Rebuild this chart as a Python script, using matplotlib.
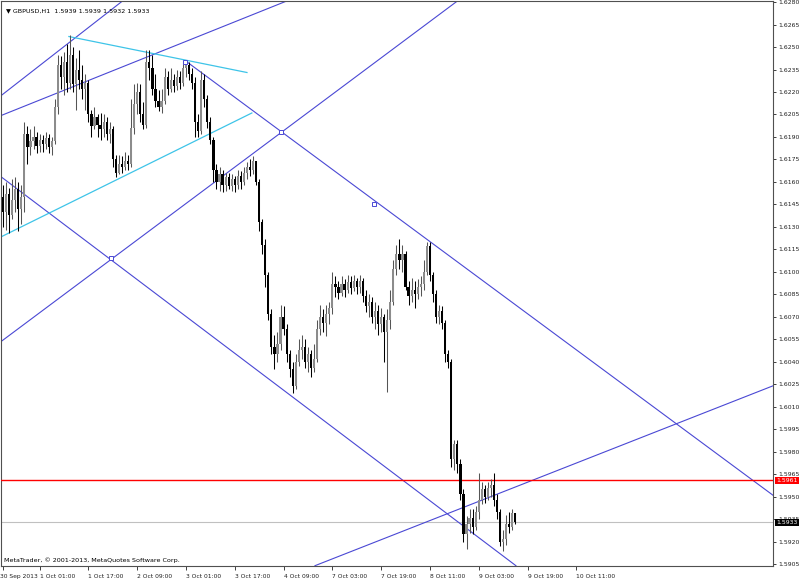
import numpy as np
import matplotlib
matplotlib.use("Agg")
import matplotlib.pyplot as plt
import matplotlib.transforms as mtrans

# GBPUSD H1 candles (bar index 0 = 30 Sep 2013 13:00)
first_open = 1.6150
close = [
    1.6140, 1.6152, 1.6138, 1.6148, 1.6155, 1.6142, 1.6150, 1.6192, 1.6183, 1.6187,
    1.6190, 1.6184, 1.6188, 1.6185, 1.6189, 1.6183, 1.6187, 1.6210, 1.6238, 1.6230,
    1.6240, 1.6226, 1.6245, 1.6225, 1.6235, 1.6228, 1.6222, 1.6226, 1.6205, 1.6197,
    1.6203, 1.6198, 1.6195, 1.6200, 1.6192, 1.6195, 1.6175, 1.6166, 1.6172, 1.6170,
    1.6174, 1.6172, 1.6196, 1.6212, 1.6220, 1.6205, 1.6198, 1.6240, 1.6236, 1.6222,
    1.6214, 1.6210, 1.6214, 1.6230, 1.6222, 1.6228, 1.6224, 1.6230, 1.6226, 1.6236,
    1.6238, 1.6232, 1.6226, 1.6200, 1.6194, 1.6228, 1.6215, 1.6200, 1.6188, 1.6168,
    1.6160, 1.6165, 1.6158, 1.6163, 1.6157, 1.6162, 1.6158, 1.6164, 1.6160, 1.6166,
    1.6170, 1.6168, 1.6174, 1.6160, 1.6133, 1.6118, 1.6098, 1.6072, 1.6050, 1.6045,
    1.6052, 1.6070, 1.6062, 1.6045, 1.6035, 1.6024, 1.6040, 1.6048, 1.6050, 1.6040,
    1.6045, 1.6036, 1.6042, 1.6062, 1.6070, 1.6066, 1.6072, 1.6076, 1.6092, 1.6090,
    1.6086, 1.6092, 1.6088, 1.6093, 1.6089, 1.6094, 1.6090, 1.6094, 1.6084, 1.6077,
    1.6080, 1.6070, 1.6074, 1.6065, 1.6070, 1.6060, 1.6068, 1.6080, 1.6102, 1.6112,
    1.6108, 1.6112, 1.6090, 1.6084, 1.6088, 1.6085, 1.6090, 1.6092, 1.6100, 1.6117,
    1.6098, 1.6085, 1.6070, 1.6074, 1.6066, 1.6045, 1.6040, 1.5975, 1.5985, 1.5972,
    1.5952, 1.5925, 1.5932, 1.5936, 1.5930, 1.5940, 1.5948, 1.5955, 1.5950, 1.5956,
    1.5958, 1.5948, 1.5940, 1.5920, 1.5922, 1.5932, 1.5930, 1.5939, 1.5933,
]
high = [
    1.6158, 1.6160, 1.6156, 1.6162, 1.6163, 1.6160, 1.6158, 1.6200, 1.6197, 1.6195,
    1.6197, 1.6193, 1.6192, 1.6191, 1.6193, 1.6192, 1.6190, 1.6215, 1.6245, 1.6244,
    1.6247, 1.6252, 1.6258, 1.6250, 1.6243, 1.6248, 1.6238, 1.6232, 1.6228, 1.6208,
    1.6210, 1.6205, 1.6206, 1.6205, 1.6203, 1.6200, 1.6197, 1.6178, 1.6178, 1.6177,
    1.6180, 1.6178, 1.6215, 1.6225, 1.6226, 1.6225, 1.6213, 1.6248, 1.6248, 1.6245,
    1.6232, 1.6221, 1.6222, 1.6236, 1.6234, 1.6236, 1.6232, 1.6235, 1.6234, 1.6241,
    1.6241, 1.6240, 1.6236, 1.6230, 1.6205, 1.6234, 1.6232, 1.6218, 1.6203, 1.6190,
    1.6172, 1.6170, 1.6168, 1.6166, 1.6166, 1.6165, 1.6164, 1.6168, 1.6167, 1.6170,
    1.6173, 1.6175, 1.6177, 1.6173, 1.6162, 1.6135, 1.6122, 1.6100, 1.6075, 1.6058,
    1.6060, 1.6078, 1.6077, 1.6065, 1.6048, 1.6040, 1.6045, 1.6055, 1.6058, 1.6055,
    1.6050, 1.6048, 1.6052, 1.6068, 1.6078, 1.6075, 1.6078, 1.6080, 1.6100, 1.6097,
    1.6094, 1.6097, 1.6095, 1.6098, 1.6097, 1.6098, 1.6096, 1.6098, 1.6096, 1.6088,
    1.6085, 1.6083, 1.6080, 1.6078, 1.6076, 1.6072, 1.6075, 1.6088, 1.6108, 1.6118,
    1.6122, 1.6118, 1.6114, 1.6094, 1.6096, 1.6094, 1.6095, 1.6097, 1.6108, 1.6120,
    1.6120, 1.6100, 1.6088, 1.6078, 1.6077, 1.6068, 1.6048, 1.6042, 1.5988, 1.5988,
    1.5975, 1.5955, 1.5937, 1.5942, 1.5942, 1.5944, 1.5966, 1.5960, 1.5958, 1.5960,
    1.5962, 1.5966, 1.5952, 1.5942, 1.5928, 1.5938, 1.5940, 1.5942, 1.5939,
]
low = [
    1.6130, 1.6128, 1.6126, 1.6135, 1.6140, 1.6127, 1.6132, 1.6140, 1.6172, 1.6178,
    1.6182, 1.6179, 1.6180, 1.6180, 1.6182, 1.6179, 1.6178, 1.6185, 1.6205, 1.6222,
    1.6218, 1.6220, 1.6222, 1.6220, 1.6208, 1.6222, 1.6215, 1.6208, 1.6200, 1.6190,
    1.6195, 1.6190, 1.6188, 1.6190, 1.6188, 1.6186, 1.6170, 1.6163, 1.6165, 1.6166,
    1.6168, 1.6168, 1.6170, 1.6192, 1.6205, 1.6200, 1.6195, 1.6196, 1.6228, 1.6218,
    1.6210, 1.6207, 1.6206, 1.6212, 1.6218, 1.6220, 1.6220, 1.6221, 1.6222, 1.6224,
    1.6230, 1.6228, 1.6222, 1.6190, 1.6190, 1.6192, 1.6210, 1.6196, 1.6185, 1.6160,
    1.6155, 1.6154, 1.6153, 1.6154, 1.6155, 1.6154, 1.6153, 1.6155, 1.6155, 1.6158,
    1.6162, 1.6164, 1.6165, 1.6158, 1.6127, 1.6112, 1.6090, 1.6068, 1.6045, 1.6035,
    1.6040, 1.6048, 1.6058, 1.6040, 1.6030, 1.6019, 1.6022, 1.6037, 1.6042, 1.6036,
    1.6033, 1.6030, 1.6033, 1.6040, 1.6058, 1.6060, 1.6057, 1.6065, 1.6072, 1.6083,
    1.6082, 1.6084, 1.6083, 1.6086, 1.6085, 1.6087, 1.6085, 1.6086, 1.6080, 1.6073,
    1.6070, 1.6066, 1.6062, 1.6058, 1.6060, 1.6040, 1.6020, 1.6062, 1.6078, 1.6098,
    1.6102, 1.6100, 1.6088, 1.6078, 1.6080, 1.6076, 1.6082, 1.6084, 1.6088, 1.6098,
    1.6094, 1.6080, 1.6066, 1.6065, 1.6062, 1.6040, 1.6036, 1.5970, 1.5968, 1.5966,
    1.5948, 1.5920, 1.5915, 1.5926, 1.5925, 1.5928, 1.5935, 1.5945, 1.5946, 1.5948,
    1.5950, 1.5944, 1.5935, 1.5917, 1.5914, 1.5918, 1.5926, 1.5928, 1.5932,
]

# time axis labels (bar index -> text)
time_ticks = [0, 12, 28, 44, 60, 76, 92, 108, 124, 140, 156, 172, 188]
time_labels = ["30 Sep 2013", "1 Oct 01:00", "1 Oct 17:00", "2 Oct 09:00",
               "3 Oct 01:00", "3 Oct 17:00", "4 Oct 09:00", "7 Oct 03:00",
               "7 Oct 19:00", "8 Oct 11:00", "9 Oct 03:00", "9 Oct 19:00",
               "10 Oct 11:00"]
price_ticks = [1.5905 + 0.0015 * k for k in range(26)]

# trend lines drawn on the chart: (bar, price) -> (bar, price)
blue_lines = [
    ((-1, 1.6217), (40, 1.6282)),
    ((-1, 1.6204), (93.4, 1.6281)),
    ((59.7, 1.6241), (252.5, 1.5951)),
    ((-1, 1.6164), (168.2, 1.5904)),
    ((-1, 1.6053), (149.2, 1.6281)),
    ((102.3, 1.5904), (252.5, 1.6024)),
]
cyan_lines = [
    ((21.6, 1.6257), (80.0, 1.6233)),
    ((-1, 1.6123), (81.6, 1.6206)),
]
anchor_x = [35.4, 91.1, 121.6, 59.7]
anchor_y = [1.6109, 1.6193, 1.6145, 1.6240]

red_level = 1.5961
last_price = 1.5933

close = np.array(close)
high = np.array(high)
low = np.array(low)
opens = np.r_[first_open, close[:-1]]
idx = np.arange(len(close))
up = close >= opens

fig = plt.figure(figsize=(8, 5.83), dpi=100)
ax = fig.add_axes([1 / 800, 17 / 583, 772 / 800, 565 / 583])
ax.set_xlim(-0.66, 252.5)
ax.set_ylim(1.59038, 1.62807)

blue = "#4a48d4"
cyan = "#3ec4e8"

for (x0, y0), (x1, y1) in blue_lines:
    ax.plot([x0, x1], [y0, y1], color=blue, lw=0.8, zorder=2)
for (x0, y0), (x1, y1) in cyan_lines:
    ax.plot([x0, x1], [y0, y1], color=cyan, lw=0.9, zorder=2)
ax.plot(anchor_x, anchor_y, ls="none", marker="s", ms=3.2, mfc="white",
        mec=blue, mew=0.7, zorder=5)

ax.axhline(red_level, color="#ff0000", lw=1.0, zorder=3)
ax.axhline(last_price, color="#c0c0c0", lw=0.8, zorder=1)

# candles
wick_col = np.where(up, "#555555", "#000000")
body_col = np.where(up, "#8c8c8c", "#000000")
ax.vlines(idx, low, high, colors=wick_col, lw=0.75, zorder=4)
body_h = np.maximum(np.abs(close - opens), 0.00002)
ax.bar(idx, body_h, bottom=np.minimum(opens, close), width=0.72,
       color=body_col, edgecolor="none", zorder=4)

# axes styling
for s in ax.spines.values():
    s.set_color("#505050")
    s.set_linewidth(0.8)
ax.yaxis.tick_right()
ax.set_yticks(price_ticks)
ax.set_yticklabels([f"{p:.4f}" for p in price_ticks])
ax.tick_params(axis="y", length=2.5, width=0.6, pad=1.5, labelsize=4.4,
               colors="#202020")
ax.set_xticks(time_ticks)
ax.set_xticklabels(time_labels)
ax.tick_params(axis="x", length=3, width=0.6, pad=3, labelsize=4.3,
               colors="#202020")
xlabs = ax.get_xticklabels()
for lab in xlabs:
    lab.set_horizontalalignment("left")
# first label sits flush with the left border
xlabs[0].set_transform(xlabs[0].get_transform()
                       + mtrans.ScaledTranslation(-3 / 100, 0, fig.dpi_scale_trans))

# price tags on the scale
tr = mtrans.blended_transform_factory(ax.transAxes, ax.transData)
ax.text(1.004, red_level, f"{red_level:.4f}", transform=tr, fontsize=4.4,
        color="white", va="center", ha="left", zorder=10, clip_on=False,
        bbox=dict(boxstyle="square,pad=0.2", fc="#ff0000", ec="none"))
ax.text(1.004, last_price, f"{last_price:.4f}", transform=tr, fontsize=4.4,
        color="white", va="center", ha="left", zorder=10, clip_on=False,
        bbox=dict(boxstyle="square,pad=0.2", fc="#000000", ec="none"))

ax.text(0.006, 0.988, "▼ GBPUSD,H1  1.5939 1.5939 1.5932 1.5933",
        transform=ax.transAxes, fontsize=4.6, va="top", ha="left")
ax.text(0.004, 0.006, "MetaTrader, © 2001-2013, MetaQuotes Software Corp.",
        transform=ax.transAxes, fontsize=4.6, va="bottom", ha="left")

fig.savefig("out.png", dpi=100, facecolor="white")
